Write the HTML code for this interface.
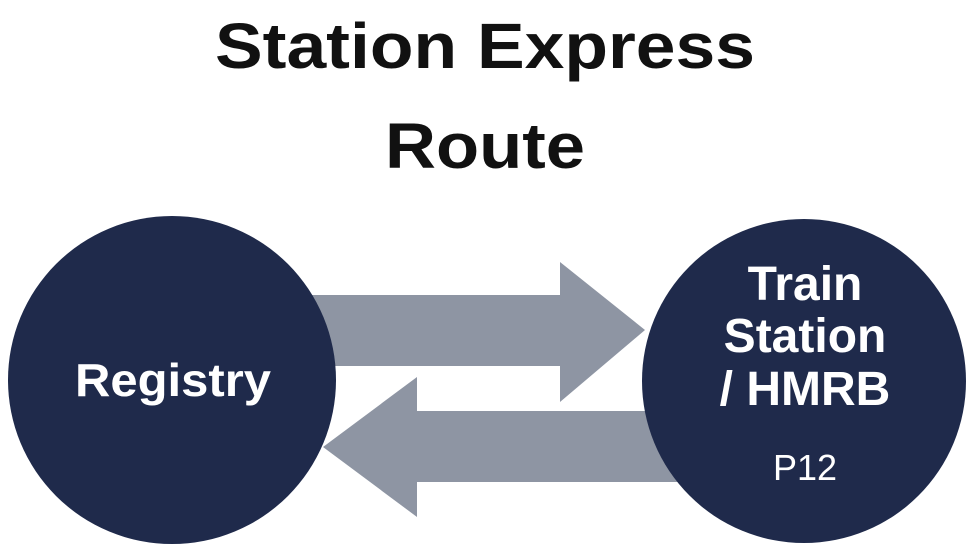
<!DOCTYPE html>
<html><head><style>html,body{margin:0;padding:0;background:#fff}</style></head>
<body>
<svg width="970" height="554" viewBox="0 0 970 554" xmlns="http://www.w3.org/2000/svg" font-family="Liberation Sans, sans-serif">
<rect width="970" height="554" fill="#fff"/>
<text x="485" y="68" font-size="64" font-weight="bold" text-anchor="middle" fill="#111" textLength="540" lengthAdjust="spacingAndGlyphs">Station Express</text>
<text x="485" y="168" font-size="64" font-weight="bold" text-anchor="middle" fill="#111" textLength="200" lengthAdjust="spacingAndGlyphs">Route</text>
<polygon points="300,295 560,295 560,262 645,330 560,402 560,366 300,366" fill="#8e95a3"/>
<polygon points="690,411 417,411 417,377 323,447 417,517 417,482 690,482" fill="#8e95a3"/>
<circle cx="172" cy="380" r="164" fill="#1f2a4b"/>
<circle cx="804" cy="381" r="162" fill="#1f2a4b"/>
<text x="173" y="396" font-size="46" font-weight="bold" text-anchor="middle" fill="#fff" textLength="196" lengthAdjust="spacingAndGlyphs">Registry</text>
<g font-weight="bold" font-size="48" fill="#fff" text-anchor="middle">
<text x="805" y="300">Train</text>
<text x="805" y="352">Station</text>
<text x="805" y="405">/ HMRB</text>
</g>
<text x="805" y="480" font-size="36" text-anchor="middle" fill="#fff">P12</text>
</svg>
</body></html>
